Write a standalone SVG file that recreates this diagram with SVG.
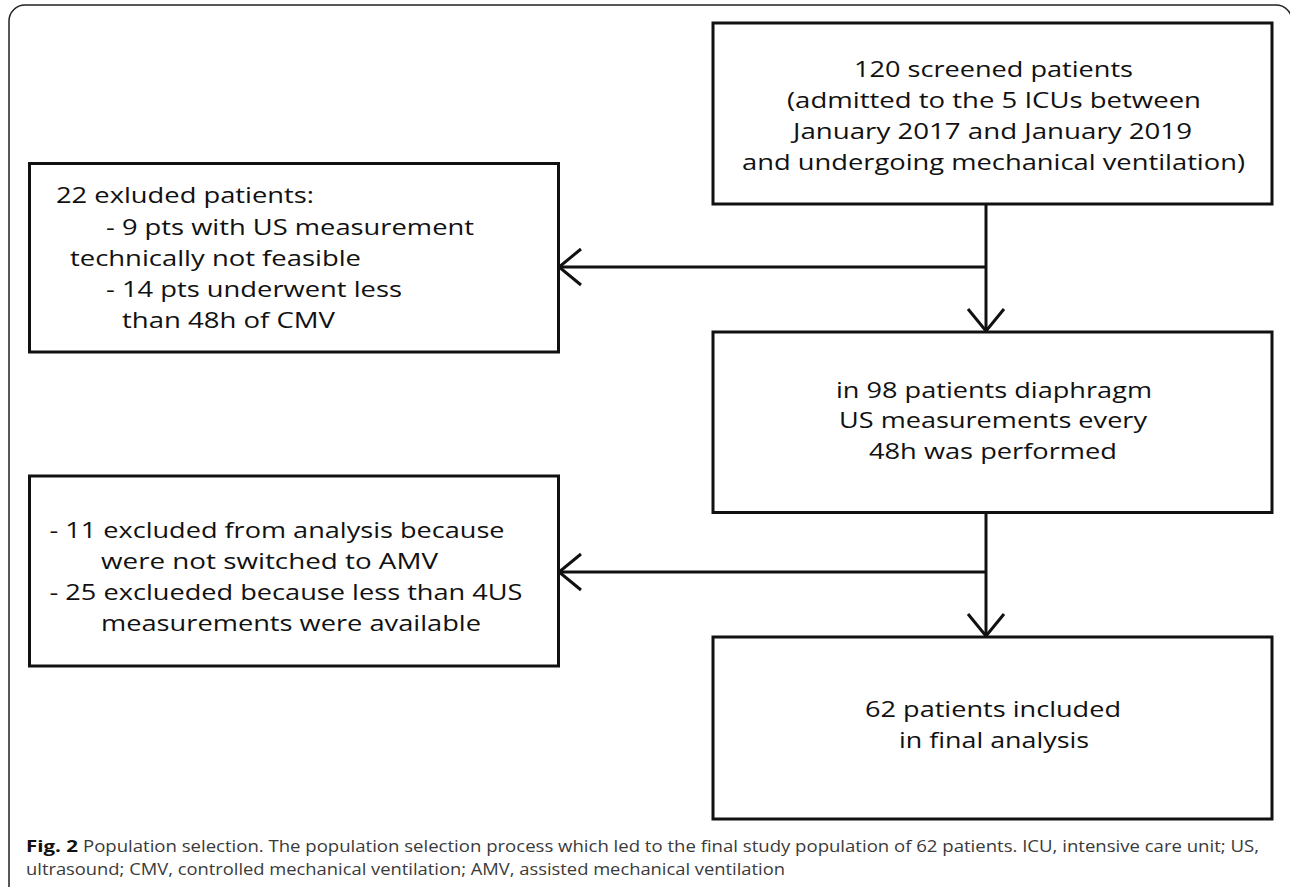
<svg xmlns="http://www.w3.org/2000/svg" width="1290" height="887" viewBox="0 0 1290 887">
<style>
.box{fill:#fff;stroke:#111;stroke-width:3}
.t{font-family:"Open Sans","Noto Sans",sans-serif;font-size:22.5px;fill:#111}
.con{fill:none;stroke:#111;stroke-width:3}
.cap{font-family:"Open Sans","Noto Sans",sans-serif;font-size:16px;fill:#3a3a3a}
.capb{font-family:"Open Sans","Noto Sans",sans-serif;font-size:16px;font-weight:bold;fill:#111}
</style>
<defs>
<marker id="arr" markerUnits="userSpaceOnUse" viewBox="0 0 26 40" markerWidth="26" markerHeight="40" refX="24" refY="20" orient="auto">
<path d="M2,2 L24,20 L2,38" fill="none" stroke="#111" stroke-width="3"/>
</marker>
</defs>
<rect width="1290" height="887" fill="#fff"/>
<path d="M9,887 L9,21 A16,16 0 0 1 25,5 L1276,5 A16,16 0 0 1 1292,21 L1292,887" fill="none" stroke="#222" stroke-width="1.5"/>
<g id="connectors">
<path class="con" d="M986,204 L986,331" marker-end="url(#arr)"/>
<path class="con" d="M986,267 L559,267" marker-end="url(#arr)"/>
<path class="con" d="M986,512 L986,636" marker-end="url(#arr)"/>
<path class="con" d="M986,572 L559,572" marker-end="url(#arr)"/>
</g>
<g id="screened">
<rect class="box" x="713" y="23" width="559" height="181"/>
<text class="t" x="854" y="77" textLength="279" lengthAdjust="spacingAndGlyphs">120 screened patients</text>
<text class="t" x="787" y="108" textLength="414" lengthAdjust="spacingAndGlyphs">(admitted to the 5 ICUs between</text>
<text class="t" x="793" y="139" textLength="399" lengthAdjust="spacingAndGlyphs">January 2017 and January 2019</text>
<text class="t" x="742" y="170" textLength="503" lengthAdjust="spacingAndGlyphs">and undergoing mechanical ventilation)</text>
</g>
<g id="excluded1">
<rect class="box" x="29.5" y="163.5" width="529" height="188.5"/>
<text class="t" x="56" y="203" textLength="258" lengthAdjust="spacingAndGlyphs">22 exluded patients:</text>
<text class="t" x="106" y="235" textLength="368" lengthAdjust="spacingAndGlyphs">- 9 pts with US measurement</text>
<text class="t" x="70" y="266" textLength="291" lengthAdjust="spacingAndGlyphs">technically not feasible</text>
<text class="t" x="106" y="297" textLength="296" lengthAdjust="spacingAndGlyphs">- 14 pts underwent less</text>
<text class="t" x="122" y="328" textLength="213" lengthAdjust="spacingAndGlyphs">than 48h of CMV</text>
</g>
<g id="measured">
<rect class="box" x="713" y="332" width="559" height="180.5"/>
<text class="t" x="836" y="398" textLength="316" lengthAdjust="spacingAndGlyphs">in 98 patients diaphragm</text>
<text class="t" x="839" y="428" textLength="308" lengthAdjust="spacingAndGlyphs">US measurements every</text>
<text class="t" x="869" y="459" textLength="248" lengthAdjust="spacingAndGlyphs">48h was performed</text>
</g>
<g id="excluded2">
<rect class="box" x="29.5" y="476" width="529" height="190"/>
<text class="t" x="49.5" y="538" textLength="455" lengthAdjust="spacingAndGlyphs">- 11 excluded from analysis because</text>
<text class="t" x="101" y="569" textLength="337" lengthAdjust="spacingAndGlyphs">were not switched to AMV</text>
<text class="t" x="49.5" y="600" textLength="473" lengthAdjust="spacingAndGlyphs">- 25 exclueded because less than 4US</text>
<text class="t" x="101" y="631" textLength="380" lengthAdjust="spacingAndGlyphs">measurements were available</text>
</g>
<g id="included">
<rect class="box" x="713" y="637" width="559" height="182"/>
<text class="t" x="865" y="717" textLength="256" lengthAdjust="spacingAndGlyphs">62 patients included</text>
<text class="t" x="899" y="748" textLength="190" lengthAdjust="spacingAndGlyphs">in final analysis</text>
</g>
<g id="caption">
<text class="capb" x="26" y="852" textLength="52" lengthAdjust="spacingAndGlyphs">Fig. 2</text>
<text class="cap" x="83" y="852" textLength="1176" lengthAdjust="spacingAndGlyphs">Population selection. The population selection process which led to the final study population of 62 patients. ICU, intensive care unit; US,</text>
<text class="cap" x="26" y="875" textLength="759" lengthAdjust="spacingAndGlyphs">ultrasound; CMV, controlled mechanical ventilation; AMV, assisted mechanical ventilation</text>
</g>
</svg>
